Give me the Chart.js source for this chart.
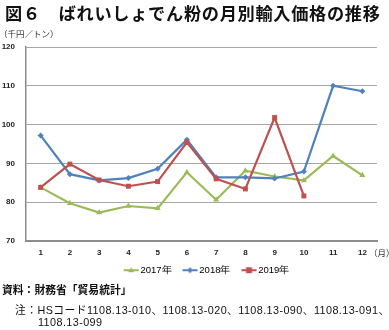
<!DOCTYPE html>
<html><head><meta charset="utf-8">
<script src="https://cdn.jsdelivr.net/npm/chart.js@4"></script>
<style>
html,body{margin:0;padding:0;background:#fff;width:389px;height:330px;overflow:hidden;}
#wrap{position:absolute;left:0;top:0;width:389px;height:330px;}
.t{position:absolute;white-space:nowrap;color:#111;font-family:"Liberation Sans","Noto Sans CJK JP",sans-serif;}
#title{left:5px;top:0px;font-size:17.2px;font-weight:bold;letter-spacing:0.7px;font-family:"Noto Sans CJK JP",sans-serif;}
#unit{left:-1px;top:27px;font-size:8.5px;color:#333;font-family:"Noto Sans CJK JP",sans-serif;}
#mon{left:369px;top:246px;font-size:8.5px;color:#333;font-family:"Noto Sans CJK JP",sans-serif;}
#src{left:2px;top:281px;font-size:10.8px;font-weight:bold;font-family:"Noto Sans CJK JP",sans-serif;}
#n1{left:15px;top:301px;font-size:10.8px;letter-spacing:0.42px;}
#n2{left:38px;top:316px;font-size:10.8px;letter-spacing:0.42px;}
</style></head>
<body><div id="wrap">
<canvas id="c" width="389" height="330"></canvas>
<div class="t" id="title">図６　ばれいしょでん粉の月別輸入価格の推移</div>
<div class="t" id="unit">（千円／トン）</div>
<div class="t" id="mon">（月）</div>
<div class="t" id="src">資料：財務省「貿易統計」</div>
<div class="t" id="n1">注：HSコード1108.13-010、1108.13-020、1108.13-090、1108.13-091、</div>
<div class="t" id="n2">1108.13-099</div>
</div>
<script>
const months = ['1','2','3','4','5','6','7','8','9','10','11','12'];
const seriesNames = ['2017年','2018年','2019年'];
const v2017 = [83.8,79.7,77.3,79.0,78.4,87.7,80.6,88.1,86.6,85.6,91.9,86.9];
const v2018 = [97.2,87.2,85.6,86.2,88.6,96.1,86.4,86.4,86.1,87.9,110.0,108.6];
const v2019 = [83.8,89.8,85.7,84.1,85.3,95.4,86.0,83.4,101.8,81.6,null,null];
const yTicks = [70,80,90,100,110,120];

const colors = ['#9BBB59','#4F81BD','#C0504D'];
const styles = ['triangle','rectRot','rect'];
const radii = [3.5,3,3.5];

function legendIcon(i){
  const cv=document.createElement('canvas');cv.width=30;cv.height=8;
  const g=cv.getContext('2d');
  g.strokeStyle=colors[i];g.lineWidth=2;
  g.beginPath();g.moveTo(14,4);g.lineTo(29,4);g.stroke();
  g.fillStyle=colors[i];
  const cx=21.5;
  g.beginPath();
  if(i===0){g.moveTo(cx,1);g.lineTo(cx+3,6);g.lineTo(cx-3,6);g.closePath();}
  else if(i===1){g.moveTo(cx,1);g.lineTo(cx+3,4);g.lineTo(cx,7);g.lineTo(cx-3,4);g.closePath();}
  else {g.rect(cx-3,1,6,6);}
  g.fill();
  return cv;
}
const icons=[0,1,2].map(legendIcon);

const data=[v2017,v2018,v2019];
new Chart(document.getElementById('c'),{
  type:'line',
  data:{labels:months,datasets:data.map((d,i)=>({
    label:seriesNames[i],data:d,borderColor:colors[i],backgroundColor:colors[i],
    borderWidth:2.2,pointStyle:styles[i],pointRadius:radii[i],pointBorderWidth:0,
    pointBackgroundColor:colors[i],tension:0,order:3-i,spanGaps:false
  }))},
  options:{
    responsive:false,animation:false,
    layout:{padding:{left:0,right:12,top:47,bottom:45}},
    plugins:{
      tooltip:{enabled:false},
      legend:{position:'bottom',align:'center',fullSize:false,
        labels:{usePointStyle:true,pointStyleWidth:22,boxHeight:8,padding:1,color:'#333',
          font:{size:9.5,family:'"Liberation Sans",Arial,sans-serif'},
          generateLabels:()=>seriesNames.map((n,i)=>({text:n,pointStyle:icons[i],fillStyle:colors[i],strokeStyle:colors[i],lineWidth:0,datasetIndex:i}))
        }}
    },
    scales:{
      x:{offset:true,grid:{display:false,drawTicks:false},
        border:{display:true,color:'#8c8c8c',width:2},
        ticks:{color:'#222',padding:7,font:{size:8,weight:'bold',family:'"Liberation Sans",Arial,sans-serif'},maxRotation:0}},
      y:{min:70,max:120,
        afterBuildTicks:s=>{s.ticks=yTicks.map(v=>({value:v}));},
        afterFit:s=>{s.width=26;},
        grid:{color:'#a6a6a6',lineWidth:1,drawTicks:false},
        border:{display:true,color:'#8c8c8c',width:1.5},
        ticks:{color:'#222',padding:11,font:{size:8,weight:'bold',family:'"Liberation Sans",Arial,sans-serif'}}}
    }
  }
});
</script>
</body></html>
